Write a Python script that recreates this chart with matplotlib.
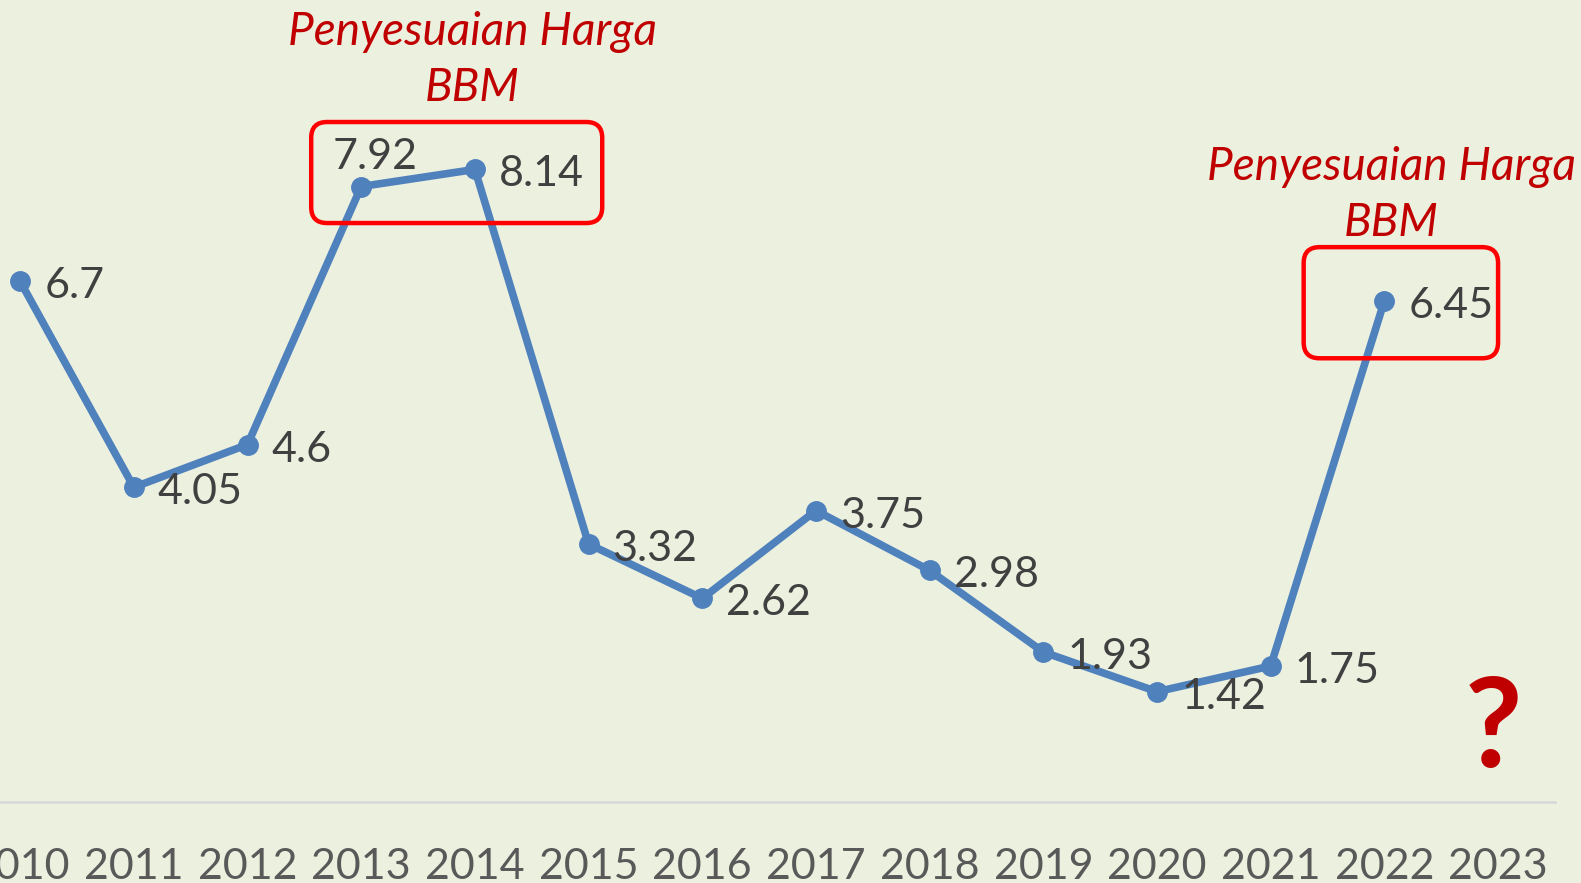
import matplotlib.pyplot as plt
from matplotlib.patches import FancyBboxPatch

years = [2010, 2011, 2012, 2013, 2014, 2015, 2016, 2017, 2018, 2019, 2020, 2021, 2022, 2023]
inflation = [6.7, 4.05, 4.6, 7.92, 8.14, 3.32, 2.62, 3.75, 2.98, 1.93, 1.42, 1.75, 6.45]
value_labels = ["6.7", "4.05", "4.6", "7.92", "8.14", "3.32", "2.62", "3.75",
                "2.98", "1.93", "1.42", "1.75", "6.45"]

note_text = "Penyesuaian Harga\nBBM"
# (x0, y0, x1, y1) in data units around the fuel-price-adjustment years
boxes = [(2012.56, 7.45, 2015.12, 8.75), (2021.29, 5.71, 2023.0, 7.14)]
notes = [(2013.98, 9.55), (2022.06, 7.81)]

BG = "#ECF0DF"
LINE = "#4F81BD"
RED = "#C00000"
FONT = "Lato"

fig = plt.figure(figsize=(15.81, 8.83), dpi=100, facecolor=BG)
ax = fig.add_axes([-0.0232, 0.0917, 1.0067, 0.9083])
ax.set_facecolor(BG)

xs = years[:len(inflation)]
ax.plot(xs, inflation, color=LINE, lw=5.5, marker="o", ms=14, zorder=3)

for x, y, lab in zip(xs, inflation, value_labels):
    if x == 2013:
        ax.annotate(lab, (x, y), xytext=(14, 30), textcoords="offset pixels",
                    ha="center", va="center", fontsize=31, color="#404040",
                    family=FONT, annotation_clip=False)
    else:
        ax.annotate(lab, (x, y), xytext=(24, -5), textcoords="offset pixels",
                    ha="left", va="center", fontsize=31, color="#404040",
                    family=FONT, annotation_clip=False)

aspect = (1591.6 / 14) / 77.73
for x0, y0, x1, y1 in boxes:
    ax.add_patch(FancyBboxPatch((x0, y0), x1 - x0, y1 - y0,
                                boxstyle="round,pad=0,rounding_size=0.14",
                                mutation_aspect=aspect, fill=False,
                                ec="#FF0000", lw=3.2, zorder=4, clip_on=False))

for nx, ny in notes:
    ax.text(nx, ny, note_text, ha="center", va="center", fontsize=33,
            style="italic", color=RED, family=FONT, linespacing=1.42,
            clip_on=False)

ax.text(2022.96, 0.91, "?", ha="center", va="center", fontsize=90,
        fontweight="bold", color=RED, family=FONT)

ax.set_xlim(2009.5, 2023.5)
ax.set_ylim(0, 10.32)
ax.set_xticks(years)
ax.set_xticklabels([str(y) for y in years], fontsize=31, color="#595959",
                   family=FONT)
ax.tick_params(axis="x", length=0, pad=33)
ax.set_yticks([])
for side in ["top", "right", "left"]:
    ax.spines[side].set_visible(False)
ax.spines["bottom"].set_color("#D9D9D9")
ax.spines["bottom"].set_linewidth(2)

fig.savefig("out.png", dpi=100, facecolor=BG)
